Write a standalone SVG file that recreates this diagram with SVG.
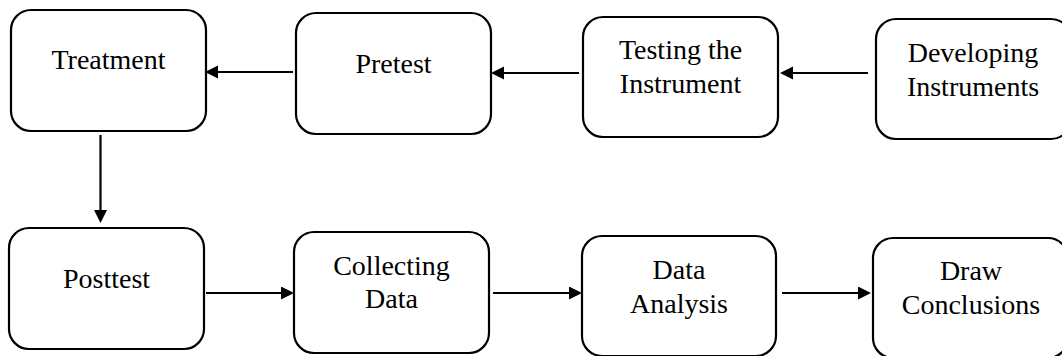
<svg xmlns="http://www.w3.org/2000/svg" width="1062" height="356" viewBox="0 0 1062 356">
  <style>
    .box { fill: #ffffff; stroke: #000000; stroke-width: 2.2; }
    .label { font-family: "Liberation Serif", "Times New Roman", serif; font-size: 28px; fill: #000000; text-anchor: middle; }
    .conn { stroke: #000000; stroke-width: 2.2; fill: none; marker-end: url(#arrow); }
  </style>
  <defs>
    <marker id="arrow" markerUnits="userSpaceOnUse" markerWidth="14" markerHeight="14" refX="6" refY="6.5" orient="auto">
      <path d="M0,0 L13,6.5 L0,13 Z" fill="#000000"/>
    </marker>
  </defs>
  <rect width="1062" height="356" fill="#ffffff"/>

  <!-- top row (flows right to left) -->
  <g id="treatment">
    <rect class="box" x="11" y="10" width="195" height="121" rx="20" ry="20"/>
    <text class="label" x="108.5" y="69">Treatment</text>
  </g>
  <g id="pretest">
    <rect class="box" x="296" y="13" width="195" height="121" rx="20" ry="20"/>
    <text class="label" x="393.5" y="73">Pretest</text>
  </g>
  <g id="testing-instrument">
    <rect class="box" x="583" y="17" width="195" height="120" rx="20" ry="20"/>
    <text class="label" x="680.5" y="59">Testing the</text>
    <text class="label" x="680.5" y="93">Instrument</text>
  </g>
  <g id="developing-instruments">
    <rect class="box" x="876" y="19" width="195" height="120" rx="20" ry="20"/>
    <text class="label" x="973" y="62">Developing</text>
    <text class="label" x="973" y="96">Instruments</text>
  </g>

  <!-- bottom row (flows left to right) -->
  <g id="posttest">
    <rect class="box" x="9" y="228" width="195" height="121" rx="20" ry="20"/>
    <text class="label" x="106.5" y="288">Posttest</text>
  </g>
  <g id="collecting-data">
    <rect class="box" x="294" y="232" width="195" height="121" rx="20" ry="20"/>
    <text class="label" x="391.5" y="275">Collecting</text>
    <text class="label" x="391.5" y="308">Data</text>
  </g>
  <g id="data-analysis">
    <rect class="box" x="582" y="236" width="194" height="120" rx="20" ry="20"/>
    <text class="label" x="679" y="279">Data</text>
    <text class="label" x="679" y="313">Analysis</text>
  </g>
  <g id="draw-conclusions">
    <rect class="box" x="873" y="238" width="195" height="120" rx="20" ry="20"/>
    <text class="label" x="971" y="280">Draw</text>
    <text class="label" x="971" y="314">Conclusions</text>
  </g>

  <!-- connectors: line ends 7px short of the arrow tip -->
  <g id="connectors">
    <line class="conn" x1="293" y1="72" x2="212" y2="72"/>
    <line class="conn" x1="579" y1="73" x2="498" y2="73"/>
    <line class="conn" x1="868" y1="73" x2="787" y2="73"/>
    <line class="conn" x1="100.5" y1="135" x2="100.5" y2="216"/>
    <line class="conn" x1="206" y1="293" x2="287" y2="293"/>
    <line class="conn" x1="493" y1="293" x2="575" y2="293"/>
    <line class="conn" x1="782" y1="293" x2="864" y2="293"/>
  </g>
</svg>
